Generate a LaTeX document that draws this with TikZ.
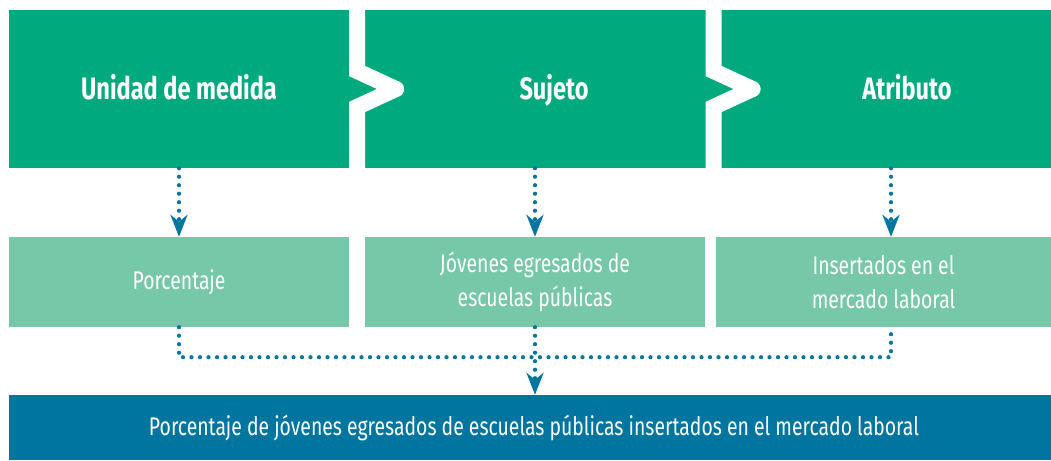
\documentclass[tikz,border=0pt]{standalone}
\usepackage{fontspec}
\setmainfont[FakeStretch=0.76]{Fira Sans}
\usetikzlibrary{arrows.meta,calc}
\definecolor{topgreen}{RGB}{0,170,126}
\definecolor{midgreen}{RGB}{118,200,169}
\definecolor{resblue}{RGB}{0,117,160}

\begin{document}
\begin{tikzpicture}[x=1pt, y=-1pt,
  topbox/.style={fill=topgreen, minimum height=158pt, inner sep=0pt},
  toptext/.style={anchor=base, text=white, font=\fontsize{31}{36}\selectfont\bfseries},
  midbox/.style={fill=midgreen, minimum height=90pt, inner sep=0pt, align=center, text=white, font=\fontsize{25.5}{34}\selectfont},
  resbox/.style={fill=resblue, minimum height=65pt, inner sep=0pt, text=white, font=\fontsize{25.5}{30}\selectfont},
  chevron/.style={white, line width=16pt, line cap=round, line join=miter},
  dots/.style={resblue, line width=4.2pt, dash pattern=on 0pt off 8.5pt, line cap=round},
  flow/.style={dots, -{Stealth[length=22pt, width=17pt, inset=7pt]}}
]
\useasboundingbox (0,0) rectangle (1051,460);

% top row
\node[topbox, minimum width=356pt] (unidad) at (187,89) {};
\node[topbox, minimum width=356pt] (sujeto) at (543,89) {};
\node[topbox, minimum width=330pt] (atributo) at (886,89) {};
\draw[chevron] (357,10) -- (357,71) -- (396,89);
\draw[chevron] (396,89) -- (357,107) -- (357,168);
\draw[chevron] (713.5,10) -- (713.5,71) -- (752.5,89);
\draw[chevron] (752.5,89) -- (713.5,107) -- (713.5,168);
\node[toptext] (unidadtxt) at (179,99) {Unidad de medida};
\node[toptext] (sujetotxt) at (554,99) {Sujeto};
\node[toptext] (atributotxt) at (907,99) {Atributo};

% middle row
\node[midbox, minimum width=340pt] (porc) at (179,282) {Porcentaje};
\node[midbox, minimum width=340pt] (jov) at (535,282) {Jóvenes egresados de\\escuelas públicas};
\node[midbox, minimum width=335pt] (ins) at (883.5,282) {Insertados en el\\mercado laboral};

% result
\node[resbox, minimum width=1042pt] (result) at (530,427.5) {\hspace*{8pt}Porcentaje de jóvenes egresados de escuelas públicas insertados en el mercado laboral};

\draw[flow] (unidad.south -| porc.north) -- (porc.north);
\draw[flow] (jov.north |- sujeto.south) -- (jov.north);
\draw[flow] ([xshift=7.5pt]ins.north |- atributo.south) -- ([xshift=7.5pt]ins.north);
\draw[dots] (porc.south) -- ++(0,30) -| ([xshift=7.5pt]ins.south);
\draw[flow] (jov.south) -- (jov.south |- result.north);
\end{tikzpicture}
\end{document}
